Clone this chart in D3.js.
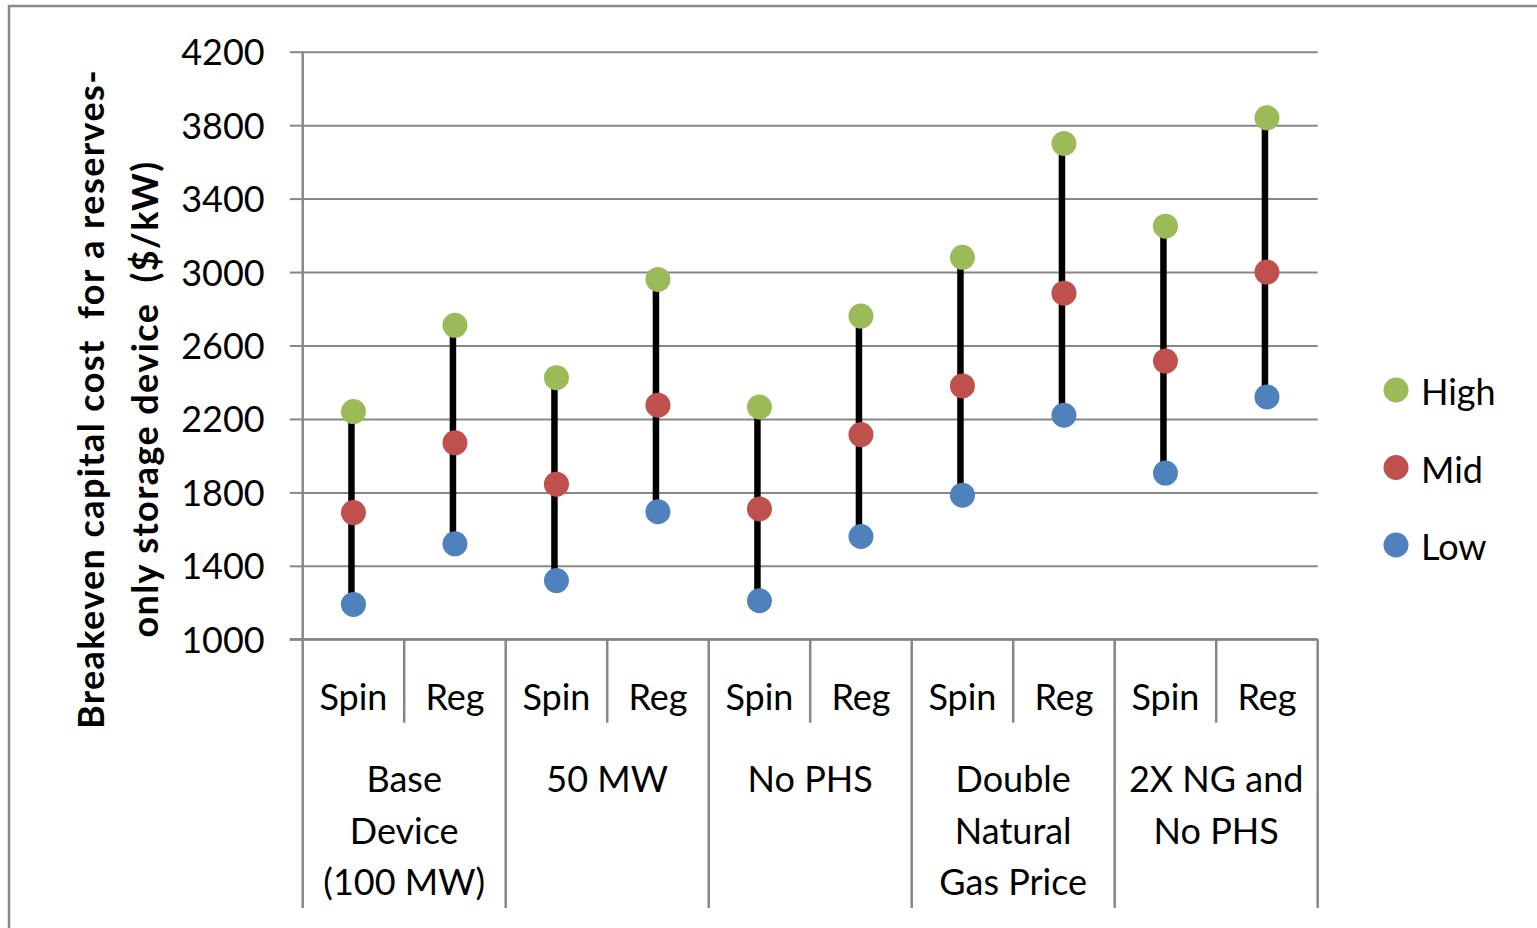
<!DOCTYPE html>
<html>
<head>
<meta charset="utf-8">
<script src="https://cdn.jsdelivr.net/npm/d3@7"></script>
<style>
  html, body { margin: 0; padding: 0; background: #fff; }
  svg text { font-family: Lato, "Open Sans", sans-serif; fill: #000; }
</style>
</head>
<body>
<svg id="chart" width="1537" height="928"></svg>
<script>
// Breakeven capital cost ranges by scenario and reserve product
const categories = ["Spin", "Reg", "Spin", "Reg", "Spin", "Reg", "Spin", "Reg", "Spin", "Reg"];
const groups = [
  ["Base", "Device", "(100 MW)"],
  ["50 MW"],
  ["No PHS"],
  ["Double", "Natural", "Gas Price"],
  ["2X NG and", "No PHS"]
];
const highValues = [2240, 2710, 2425, 2960, 2265, 2760, 3080, 3700, 3250, 3840];
const midValues  = [1690, 2070, 1845, 2275, 1710, 2115, 2380, 2885, 2515, 3000];
const lowValues  = [1190, 1520, 1320, 1695, 1210, 1560, 1785, 2220, 1905, 2320];
const yTicks = [1000, 1400, 1800, 2200, 2600, 3000, 3400, 3800, 4200];
const seriesNames = ["High", "Mid", "Low"];
const seriesColors = ["#9BBB59", "#C0504D", "#4F81BD"];
const yTitle = ["Breakeven capital cost  for a reserves-", "only storage device  ($/kW)"];

const svg = d3.select("#chart");
const plotLeft = 302.7, plotRight = 1317.7, plotTop = 51.7, plotBottom = 639.3, axisBottom = 908;
const gridColor = "#878787";

const y = d3.scaleLinear().domain([1000, 4200]).range([plotBottom, plotTop]);
const x = d3.scaleBand().domain(d3.range(categories.length)).range([plotLeft, plotRight]).padding(0);
const groupSize = 2;

// outer chart frame
svg.append("rect")
  .attr("x", 9).attr("y", 6).attr("width", 1600).attr("height", 1000)
  .attr("fill", "none").attr("stroke", "#898989").attr("stroke-width", 2.5);

// horizontal gridlines
const grid = svg.append("g").attr("transform", `translate(${plotLeft},0)`)
  .call(d3.axisRight(y).tickValues(yTicks).tickSize(plotRight - plotLeft).tickFormat(""));
grid.select(".domain").remove();
grid.selectAll(".tick line").attr("stroke", gridColor).attr("stroke-width", 2);

// value axis with outside ticks and labels
const yAxis = svg.append("g").attr("transform", `translate(${plotLeft},0)`)
  .call(d3.axisLeft(y).tickValues(yTicks).tickSize(13).tickPadding(25).tickFormat(d3.format("d")));
yAxis.select(".domain").remove();
yAxis.selectAll(".tick line").attr("stroke", gridColor).attr("stroke-width", 2);
yAxis.selectAll(".tick text")
  .style("font-family", "Lato, sans-serif").style("font-size", "36px").attr("fill", "#000")
  .attr("dy", "0.36em");

// vertical axis line running down through the category rows
svg.append("line")
  .attr("x1", plotLeft).attr("x2", plotLeft).attr("y1", plotTop).attr("y2", axisBottom)
  .attr("stroke", gridColor).attr("stroke-width", 2.5);

// category axis line
svg.append("line")
  .attr("x1", plotLeft - 13).attr("x2", plotRight).attr("y1", plotBottom).attr("y2", plotBottom)
  .attr("stroke", gridColor).attr("stroke-width", 2.5);

// dividers between categories (short) and between groups (long)
const dividers = d3.range(1, categories.length + 1);
svg.append("g").selectAll("line").data(dividers).join("line")
  .attr("x1", i => x(i - 1) + x.bandwidth())
  .attr("x2", i => x(i - 1) + x.bandwidth())
  .attr("y1", plotBottom)
  .attr("y2", i => i % groupSize === 0 ? axisBottom : 722.7)
  .attr("stroke", gridColor).attr("stroke-width", 2.5);

// category labels
svg.append("g").selectAll("text").data(categories).join("text")
  .attr("x", (d, i) => x(i) + x.bandwidth() / 2)
  .attr("y", 710)
  .attr("text-anchor", "middle")
  .style("font-size", "36px")
  .text(d => d);

// group labels
const groupG = svg.append("g").selectAll("text").data(groups).join("text")
  .attr("text-anchor", "middle")
  .style("font-size", "36px");
groupG.selectAll("tspan").data((d, gi) => d.map(line => ({ line, gi }))).join("tspan")
  .attr("x", d => x(d.gi * groupSize) + x.bandwidth())
  .attr("y", (d, li) => 792 + li * 51.7)
  .text(d => d.line);

// high-low connectors
const cx = i => x(i) + x.bandwidth() / 2;
svg.append("g").selectAll("line").data(categories).join("line")
  .attr("x1", (d, i) => cx(i) - 2).attr("x2", (d, i) => cx(i) - 2)
  .attr("y1", (d, i) => y(highValues[i])).attr("y2", (d, i) => y(lowValues[i]))
  .attr("stroke", "#000").attr("stroke-width", 6.5);

// markers
const series = [highValues, midValues, lowValues];
series.forEach((vals, si) => {
  svg.append("g").selectAll("circle").data(vals).join("circle")
    .attr("cx", (d, i) => cx(i))
    .attr("cy", d => y(d))
    .attr("r", 12.5)
    .attr("fill", seriesColors[si]);
});

// legend
const legend = svg.append("g").selectAll("g").data(seriesNames).join("g")
  .attr("transform", (d, i) => `translate(1396,${390 + i * 77.5})`);
legend.append("circle").attr("r", 12.5).attr("fill", (d, i) => seriesColors[i]);
legend.append("text").attr("x", 25).attr("y", 15).style("font-size", "36px").text(d => d);

// value axis title
svg.append("g").selectAll("text").data(yTitle).join("text")
  .attr("transform", (d, i) => `translate(${104 + i * 54},399) rotate(-90)`)
  .attr("text-anchor", "middle")
  .style("font-size", "36px").style("font-weight", "bold")
  .style("letter-spacing", "1.4px")
  .style("white-space", "pre")
  .text(d => d);
</script>
</body>
</html>
